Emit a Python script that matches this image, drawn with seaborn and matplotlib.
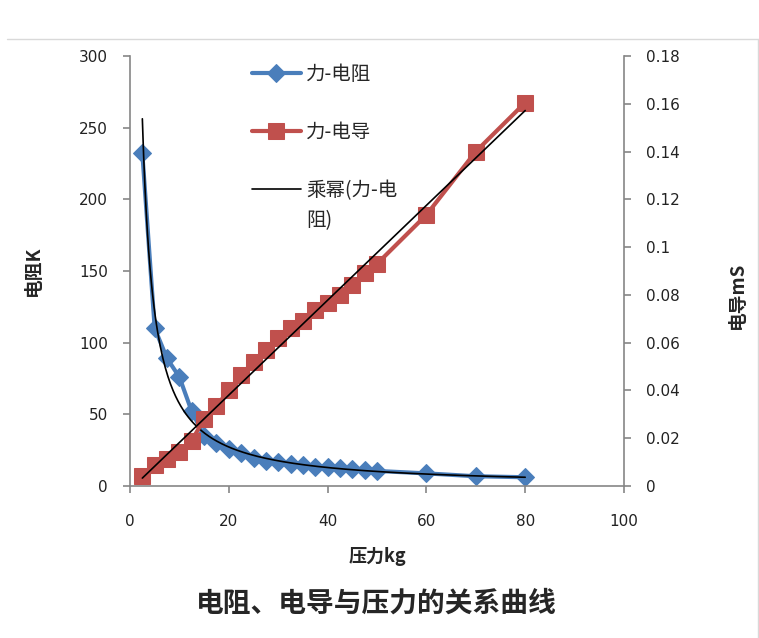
import numpy as np
import pandas as pd
import seaborn as sns
import matplotlib
matplotlib.use("Agg")
import matplotlib.pyplot as plt
from matplotlib.lines import Line2D
from matplotlib.ticker import FixedLocator, FixedFormatter

# ---------------- data ----------------
pressure = [2.5, 5, 7.5, 10, 12.5, 15, 17.5, 20, 22.5, 25, 27.5, 30, 32.5, 35,
            37.5, 40, 42.5, 45, 47.5, 50, 60, 70, 80]
resistance = [232, 110, 89, 76, 52, 35, 30, 26, 23, 19.5, 17.5, 16.5, 15.5, 14.5,
              13.6, 13, 12.4, 11.8, 11.2, 10.5, 8.8, 6.8, 6.1]
conductance = [0.0040, 0.0088, 0.0113, 0.0142, 0.019, 0.028, 0.0335, 0.040, 0.0465,
               0.052, 0.057, 0.062, 0.066, 0.069, 0.0735, 0.0765, 0.080, 0.084,
               0.089, 0.093, 0.1135, 0.140, 0.1605]

x_ticks = [0, 20, 40, 60, 80, 100]
y_left_ticks = [0, 50, 100, 150, 200, 250, 300]
y_right_ticks = [0, 0.02, 0.04, 0.06, 0.08, 0.1, 0.12, 0.14, 0.16, 0.18]
y_right_labels = ["0", "0.02", "0.04", "0.06", "0.08", "0.1", "0.12", "0.14", "0.16", "0.18"]

label_res = "力-电阻"
label_cond = "力-电导"
label_pow_line1 = "乘幂(力-电"
label_pow_line2 = "阻)"
xlabel = "压力kg"
ylabel_left = "电阻K"
ylabel_right = "电导mS"
title = "电阻、电导与压力的关系曲线"

df = pd.DataFrame({"pressure": pressure, "resistance": resistance, "conductance": conductance})

# trendlines fitted from the data (as the spreadsheet does)
b_pow, log_a = np.polyfit(np.log(df["pressure"]), np.log(df["resistance"]), 1)
k_lin, c_lin = np.polyfit(df["pressure"], df["conductance"], 1)
xs = np.linspace(min(pressure), max(pressure), 300)
pow_df = pd.DataFrame({"x": xs, "y": np.exp(log_a) * xs ** b_pow})
lin_df = pd.DataFrame({"x": xs, "y": c_lin + k_lin * xs})

# ---------------- style ----------------
sns.set_style("white")
plt.rcParams["font.family"] = ["Noto Sans CJK SC", "DejaVu Sans"]

BLUE = "#4A7EBB"
RED = "#C0504D"
SPINE = "#868686"

fig = plt.figure(figsize=(7.59, 6.38), dpi=100)
ax = fig.add_axes([130 / 759, 1 - 486 / 638, 494 / 759, 430 / 638])
ax2 = ax.twinx()

# primary axis: resistance
sns.lineplot(data=df, x="pressure", y="resistance", ax=ax, color=BLUE, linewidth=3,
             marker="D", markersize=9, markeredgecolor=BLUE, legend=False)
h_res = ax.lines[-1]
sns.lineplot(data=pow_df, x="x", y="y", ax=ax, color="black", linewidth=1.2, legend=False)
h_pow = ax.lines[-1]

# secondary axis: conductance
sns.lineplot(data=df, x="pressure", y="conductance", ax=ax2, color=RED, linewidth=3,
             marker="s", markersize=11, markeredgecolor=RED, legend=False)
h_cond = ax2.lines[-1]
sns.lineplot(data=lin_df, x="x", y="y", ax=ax2, color="black", linewidth=1.2, legend=False)

ax.set_xlim(0, 100)
ax.set_ylim(0, 300)
ax2.set_ylim(0, 0.18)
ax.xaxis.set_major_locator(FixedLocator(x_ticks))
ax.yaxis.set_major_locator(FixedLocator(y_left_ticks))
ax2.yaxis.set_major_locator(FixedLocator(y_right_ticks))
ax2.yaxis.set_major_formatter(FixedFormatter(y_right_labels))

for a in (ax, ax2):
    a.set_facecolor("none")
    a.grid(False)
    a.spines["top"].set_visible(False)
    for s in ("left", "right", "bottom"):
        a.spines[s].set_color(SPINE)
        a.spines[s].set_linewidth(1.2)
ax.spines["right"].set_visible(False)
ax2.spines["left"].set_visible(False)
ax2.spines["bottom"].set_visible(False)

ax.tick_params(axis="y", which="major", direction="out", length=5, width=1.2, color=SPINE,
               left=True, labelsize=11, labelcolor="#222222", pad=11)
ax.tick_params(axis="x", which="major", direction="out", length=5, width=1.2, color=SPINE,
               bottom=True, labelsize=11, labelcolor="#222222", pad=15)
ax2.tick_params(axis="y", which="major", direction="out", length=5, width=1.2, color=SPINE,
                right=True, labelsize=11, labelcolor="#222222", pad=11)
for lab in ax.get_xticklabels() + ax.get_yticklabels() + ax2.get_yticklabels():
    lab.set_family("DejaVu Sans")

ax.set_xlabel(xlabel, fontsize=13, fontweight="bold")
ax.xaxis.set_label_coords(0.5, (486 - 557) / 430)
ax.set_ylabel(ylabel_left, fontsize=13.5, fontweight="bold")
ax.yaxis.set_label_coords((33 - 130) / 494, 0.5)
ax2.set_ylabel(ylabel_right, fontsize=13.5, fontweight="bold", rotation=90)
ax2.yaxis.set_label_coords((737 - 130) / 494, (486 - 295) / 430)
ax.xaxis.label.set_va("center")
ax.yaxis.label.set_va("center")
ax2.yaxis.label.set_va("center")

fig.text(376 / 759, 1 - 604 / 638, title, ha="center", va="center",
         fontsize=20, fontweight="bold")

leg = ax2.legend([h_res, h_cond, h_pow], [label_res, label_cond, label_pow_line1],
                 loc="upper left", bbox_to_anchor=(252 / 759, 1 - 64 / 638),
                 bbox_transform=fig.transFigure, frameon=False, fontsize=14,
                 handlelength=2.5, handletextpad=0.3, labelspacing=1.9, borderpad=0,
                 borderaxespad=0)

# second line of the wrapped trendline label, placed under its first line
fig.canvas.draw()
bb = leg.get_texts()[2].get_window_extent()
fig.text(bb.x0 / fig.bbox.width, (bb.y0 - 30 + bb.height / 2) / fig.bbox.height,
         label_pow_line2, ha="left", va="center", fontsize=14)

# light chart-area border
fig.add_artist(Line2D([7 / 759, 758 / 759], [1 - 39 / 638, 1 - 39 / 638],
                      transform=fig.transFigure, color="#D9D9D9", lw=1))
fig.add_artist(Line2D([758 / 759, 758 / 759], [0, 1 - 39 / 638],
                      transform=fig.transFigure, color="#D9D9D9", lw=1))

fig.savefig("out.png", dpi=100, facecolor="white")
